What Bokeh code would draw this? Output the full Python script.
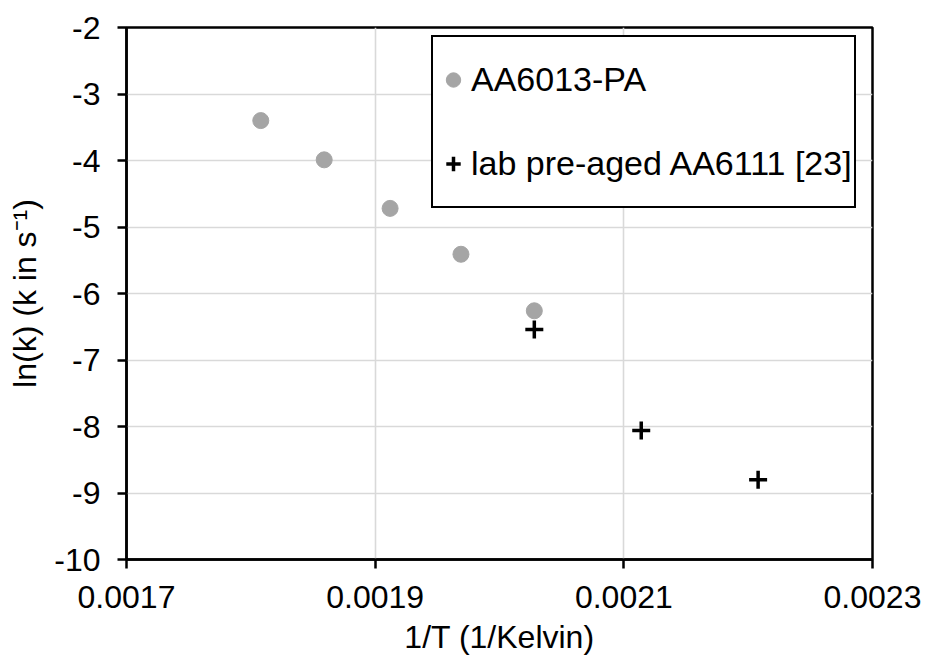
from bokeh.plotting import figure
from bokeh.models import (Range1d, FixedTicker, PrintfTickFormatter, Legend,
                          LegendItem)
from bokeh.embed import file_html
from bokeh.resources import INLINE

# Arrhenius data: inverse temperature (1/K) and ln of rate constant (k in 1/s)
inv_T_pa = [0.001808, 0.001859, 0.001912, 0.001969, 0.002028]
ln_k_pa = [-3.40, -3.99, -4.72, -5.41, -6.26]

inv_T_lab = [0.002028, 0.002114, 0.002208]
ln_k_lab = [-6.54, -8.06, -8.80]

series_names = ["AA6013-PA", "lab pre-aged AA6111 [23]"]

x_ticks = [0.0017, 0.0019, 0.0021, 0.0023]
y_ticks = [-10, -9, -8, -7, -6, -5, -4, -3, -2]

FONT = "Liberation Sans"

p = figure(width=925, height=659, output_backend="svg", toolbar_location=None,
           x_range=Range1d(0.0017, 0.0023), y_range=Range1d(-10, -2),
           min_border_left=126, min_border_right=53,
           min_border_top=27, min_border_bottom=100)
p.background_fill_color = "white"
p.border_fill_color = "white"
p.outline_line_color = "black"
p.outline_line_width = 2.5
p.outline_line_alpha = 1.0

# grid
p.xgrid.ticker = FixedTicker(ticks=x_ticks)
p.ygrid.ticker = FixedTicker(ticks=y_ticks)
for g in (p.xgrid, p.ygrid):
    g.grid_line_color = "#d9d9d9"
    g.grid_line_width = 1.6

# axes
p.xaxis.ticker = FixedTicker(ticks=x_ticks)
p.xaxis.formatter = PrintfTickFormatter(format="%.4f")
p.yaxis.ticker = FixedTicker(ticks=y_ticks)
p.yaxis.formatter = PrintfTickFormatter(format="%d")
p.xaxis.axis_label = "1/T (1/Kelvin)"
p.yaxis.axis_label = "ln(k) (k in s\u207b\u00b9)"
for ax in (p.xaxis, p.yaxis):
    ax.axis_line_color = "black"
    ax.axis_line_width = 2.5
    ax.major_tick_line_color = "black"
    ax.major_tick_line_width = 2.5
    ax.major_tick_in = 0
    ax.major_tick_out = 9
    ax.minor_tick_line_color = None
    ax.major_label_text_font = FONT
    ax.major_label_text_font_size = "32px"
    ax.major_label_text_color = "black"
    ax.axis_label_text_font = FONT
    ax.axis_label_text_font_size = "32px"
    ax.axis_label_text_font_style = "normal"
    ax.axis_label_text_color = "black"
p.xaxis.major_label_standoff = 17
p.yaxis.major_label_standoff = 17
p.xaxis.axis_label_standoff = 8
p.yaxis.axis_label_standoff = 8

# series
r_pa = p.scatter(inv_T_pa, ln_k_pa, marker="circle", size=16,
                 fill_color="#a5a5a5", line_color="#a5a5a5")
r_lab = p.scatter(inv_T_lab, ln_k_lab, marker="cross", size=18,
                  line_color="black", line_width=3.5)

legend = Legend(items=[LegendItem(label=series_names[0], renderers=[r_pa]),
                       LegendItem(label=series_names[1], renderers=[r_lab])],
                location=(305, 351), margin=0, padding=2, spacing=3,
                glyph_width=36, glyph_height=81, label_height=81,
                label_standoff=0,
                label_text_font=FONT, label_text_font_size="34px",
                label_text_color="black",
                border_line_color="black", border_line_width=2.5,
                border_line_alpha=1.0,
                background_fill_color="white", background_fill_alpha=1.0)
p.add_layout(legend)

open("out.html", "w").write(file_html(p, INLINE))
